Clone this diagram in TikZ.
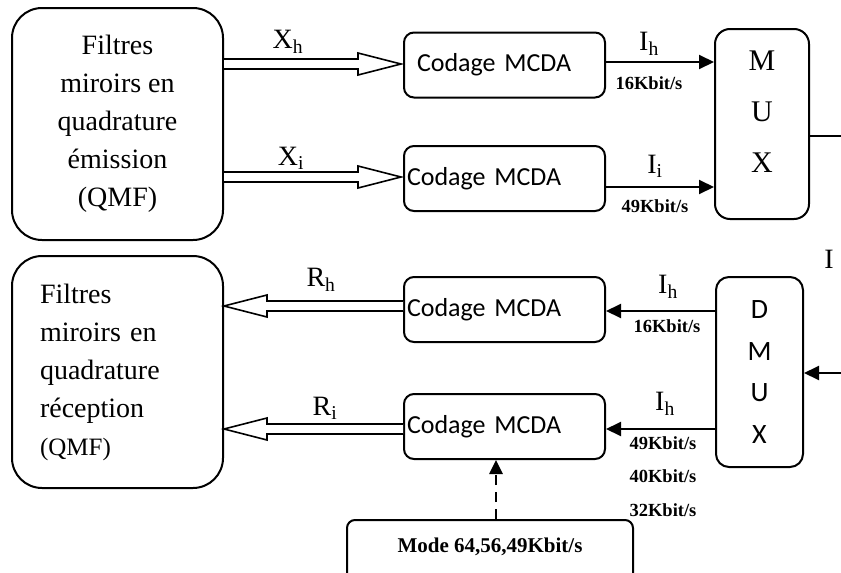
\documentclass[tikz,border=0pt]{standalone}
\usepackage{fontspec}
\setmainfont{Liberation Serif}
\newfontfamily\calib{Carlito}
\usetikzlibrary{arrows.meta,calc}

% hollow block arrow with a thin shaft: #1 start, #2 tip (same height),
% #3 direction (1 = rightwards, -1 = leftwards)
\newcommand\blockarrow[3]{%
  \draw[line width=1.6pt, fill=white, line join=miter]
    let \p1=(#1), \p2=(#2) in
    (\x1,\y1+5pt) -- (\x2-#3*43pt,\y1+5pt) -- (\x2-#3*43pt,\y1+11pt)
    -- (\x2,\y1) -- (\x2-#3*43pt,\y1-11pt) -- (\x2-#3*43pt,\y1-5pt)
    -- (\x1,\y1-5pt);}

\tikzset{
  roundbox/.style={draw, line width=2pt, rounded corners=#1, inner sep=0pt},
  roundbox/.default=10pt,
  filterbox/.style={roundbox=30pt, minimum width=211pt, minimum height=232pt,
    font=\fontsize{28}{38}\selectfont},
  codbox/.style={roundbox=10pt, minimum width=201pt, minimum height=65pt,
    text width=195pt, align=left, font=\calib\fontsize{26}{30}\selectfont},
  sig/.style={anchor=base, inner sep=0pt, font=\fontsize{28}{30}\selectfont},
  ratelbl/.style={anchor=base, inner sep=0pt, font=\bfseries\fontsize{18.5}{20}\selectfont},
  flow/.style={line width=2pt, -{Triangle[length=15pt,width=14pt]}},
  dasharrow/.style={line width=2.6pt, dash pattern=on 10pt off 7pt,
    -{Triangle[length=14pt,width=13pt]}},
}

\begin{document}
\begin{tikzpicture}[x=1pt,y=-1pt]
\useasboundingbox (0,0) rectangle (841,573);
\clip (0,0) rectangle (841,573);

% ---------- emission side ----------
\node[filterbox, align=center] (filtE) at (117.5,124)
  {Filtres\\miroirs en\\quadrature\\émission\\(QMF)};

\node[codbox] (cod1) at (504.5,65) {\hspace*{10pt}Codage MCDA};
\node[codbox] (cod2) at (504.5,178.5) {Codage MCDA};

\node[roundbox=15pt, minimum width=94pt, minimum height=190pt] (mux) at (762,124) {};
\node[align=center, inner sep=0pt, font=\fontsize{30}{51}\selectfont] (muxtxt)
  at (762,112) {M\\U\\X};

\coordinate (xh) at (0,64);
\coordinate (xi) at (0,177);
\blockarrow{filtE.east |- xh}{$(cod1.west |- xh)+(-2,0)$}{1}
\blockarrow{filtE.east |- xi}{$(cod2.west |- xi)+(-2,0)$}{1}
\node[sig] (lxh) at (288,48) {X\textsubscript{h}};
\node[sig] (lxi) at (291,165) {X\textsubscript{i}};

\coordinate (ih) at (0,62);
\coordinate (ii) at (0,187);
\draw[flow] (cod1.east |- ih) -- (mux.west |- ih);
\draw[flow] (cod2.east |- ii) -- (mux.west |- ii);
\node[sig] (lih) at (649,50) {I\textsubscript{h}};
\node[ratelbl] (r16a) at (649,89) {16Kbit/s};
\node[sig] (lii) at (655,173) {I\textsubscript{i}};
\node[ratelbl] (r49a) at (655,212) {49Kbit/s};

\coordinate (muxout) at (841,136);
\draw[line width=2pt] (mux.east |- muxout) -- (muxout);

% ---------- reception side ----------
\node[filterbox, align=left, text width=155pt] (filtR) at (117.5,372)
  {Filtres\\miroirs en\\quadrature\\réception\\{\fontsize{25}{38}\selectfont(QMF)}};

\node[codbox] (cod3) at (504.5,309.5) {Codage MCDA};
\node[codbox] (cod4) at (504.5,426.5) {Codage MCDA};

\node[roundbox=13pt, minimum width=87pt, minimum height=190pt, align=center,
  font=\calib\fontsize{28}{41.5}\selectfont] (dmux) at (759.5,372) {D\\M\\U\\X};

\coordinate (rh) at (0,306);
\coordinate (ri) at (0,429);
\blockarrow{cod3.west |- rh}{filtR.east |- rh}{-1}
\blockarrow{cod4.west |- ri}{filtR.east |- ri}{-1}
\node[sig] (lrh) at (321,286) {R\textsubscript{h}};
\node[sig] (lri) at (325,415) {R\textsubscript{i}};

\coordinate (jh) at (0,311);
\coordinate (ji) at (0,429);
\draw[flow] (dmux.west |- jh) -- (cod3.east |- jh);
\draw[flow] (dmux.west |- ji) -- (cod4.east |- ji);
\node[sig] (ljh) at (668,293) {I\textsubscript{h}};
\node[ratelbl] (r16b) at (667,332) {16Kbit/s};
\node[sig] (lji) at (665,410) {I\textsubscript{h}};
\node[ratelbl] (r49b) at (663,449) {49Kbit/s};
\node[ratelbl] (r40b) at (663,482) {40Kbit/s};
\node[ratelbl] (r32b) at (663,516) {32Kbit/s};

\coordinate (dmuxin) at (841,373);
\draw[flow] (dmuxin) -- (dmux.east |- dmuxin);
\node[sig] (lin) at (829,268) {I};

% ---------- mode selection ----------
\node[roundbox=8pt, minimum width=286pt, minimum height=70pt] (mode) at (490,555) {};
\node[anchor=base, inner sep=0pt, font=\bfseries\fontsize{21}{24}\selectfont] (modetxt)
  at (490,552) {Mode 64,56,49Kbit/s};
\coordinate (dsh) at (496,0);
\draw[dasharrow] (mode.north -| dsh) -- (cod4.south -| dsh);
\end{tikzpicture}
\end{document}
